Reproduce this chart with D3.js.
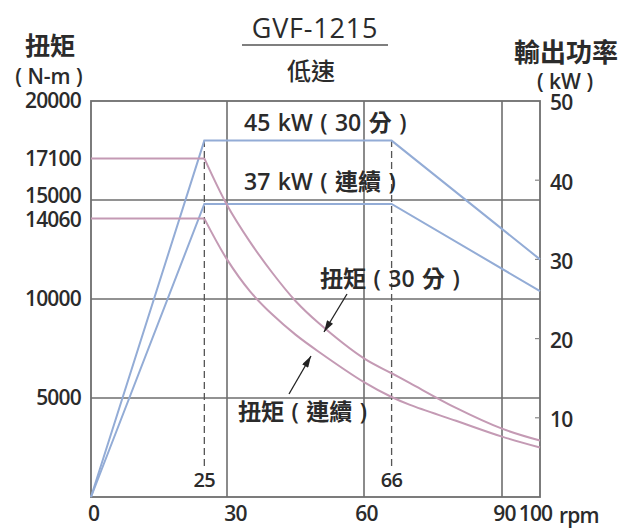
<!DOCTYPE html>
<html>
<head>
<meta charset="utf-8">
<script src="https://cdn.jsdelivr.net/npm/d3@7"></script>
<style>
body{margin:0;background:#fff;}
text{font-family:"Open Sans","Noto Sans CJK TC",sans-serif;fill:#2b2b2b;}
.cjk{font-family:"Noto Sans CJK TC","Open Sans",sans-serif;}
</style>
</head>
<body>
<svg id="chart"></svg>
<script>
// rpm values
var rpmTicks = [0,30,60,90,100];
var markRpm = [25,66];
// torque axis (N-m)
var torqueTicks = [20000,17100,15000,14060,10000,5000];
var gridTorque = [5000,10000,15000];
// power axis (kW)
var powerTicks = [10,20,30,40,50];

// power curves
var powerRpm = [0,25,66,100];
var power30 = [0,45,45,30];
var powerCont = [0,37,37,26];

// torque curves
var torqueRpm = [25,30,35,40,45,50,60,66,70,80,90,100];
var torque30 = [17100,14750,12900,11300,9900,8800,7000,6250,5750,4500,3450,2850];
var torqueCont = [14060,12000,10400,9200,8200,7350,5800,5050,4650,3850,3050,2500];

var blue = "#93acd6";
var pink = "#c49ab4";
var grid = "#6e6e6e";

var svg = d3.select("#chart")
    .attr("width",625)
    .attr("height",529);

var x = d3.scaleLinear()
    .domain([0,30,60,90,100])
    .range([91,227,364,502,540]);
var yT = d3.scaleLinear()
    .domain([0,20000])
    .range([497,101]);
var yP = d3.scaleLinear()
    .domain([0,50])
    .range([497,101]);

// marker for the arrows
svg.append("defs").append("marker")
    .attr("id","arr")
    .attr("viewBox","0 0 10 6")
    .attr("refX",10).attr("refY",3)
    .attr("markerWidth",14).attr("markerHeight",7)
    .attr("markerUnits","userSpaceOnUse")
    .attr("orient","auto")
    .append("path")
    .attr("d","M0,0L10,3L0,6Z")
    .attr("fill","#222");

//gridlines
svg.selectAll(".hgrid")
    .data(gridTorque)
    .enter()
    .append("line")
    .attr("x1",x(0)).attr("x2",x(100))
    .attr("y1",function(d){return yT(d)})
    .attr("y2",function(d){return yT(d)})
    .attr("stroke",grid).attr("stroke-width",1.6);

svg.selectAll(".vgrid")
    .data([30,60,90])
    .enter()
    .append("line")
    .attr("x1",function(d){return x(d)})
    .attr("x2",function(d){return x(d)})
    .attr("y1",yT(0)).attr("y2",yT(20000))
    .attr("stroke",grid).attr("stroke-width",1.6);

// dashed markers at 25 and 66 (stop above their labels)
svg.selectAll(".dash")
    .data(markRpm)
    .enter()
    .append("line")
    .attr("x1",function(d){return x(d)})
    .attr("x2",function(d){return x(d)})
    .attr("y1",yT(0)-31).attr("y2",yP(45))
    .attr("stroke","#555").attr("stroke-width",1.3)
    .attr("stroke-dasharray","7,4");

svg.selectAll(".dashlab")
    .data(markRpm)
    .enter()
    .append("text")
    .attr("x",function(d){return x(d)})
    .attr("y",487)
    .attr("text-anchor","middle")
    .style("font-size","20px")
    .style("font-weight","600")
    .style("letter-spacing","-0.5px")
    .text(function(d){return d});

// frame
svg.append("rect")
    .attr("x",x(0)).attr("y",yT(20000))
    .attr("width",x(100)-x(0)).attr("height",yT(0)-yT(20000))
    .attr("fill","none").attr("stroke",grid).attr("stroke-width",1.8);

// right axis inner ticks
svg.selectAll(".rtick")
    .data(powerTicks.slice(0,4))
    .enter()
    .append("line")
    .attr("x1",x(100)-5).attr("x2",x(100))
    .attr("y1",function(d){return yP(d)})
    .attr("y2",function(d){return yP(d)})
    .attr("stroke","#888").attr("stroke-width",1.2);

// power lines
var lineP = d3.line()
    .x(function(d){return x(d[0])})
    .y(function(d){return yP(d[1])});

[power30,powerCont].forEach(function(vals){
    svg.append("path")
        .datum(powerRpm.map(function(r,i){return [r,vals[i]]}))
        .attr("d",lineP)
        .attr("fill","none")
        .attr("stroke",blue)
        .attr("stroke-width",2);
});

// torque lines
var lineT = d3.line()
    .x(function(d){return x(d[0])})
    .y(function(d){return yT(d[1])})
    .curve(d3.curveCatmullRom.alpha(0.5));

[torque30,torqueCont].forEach(function(vals){
    svg.append("line")
        .attr("x1",x(0)).attr("x2",x(25))
        .attr("y1",yT(vals[0])).attr("y2",yT(vals[0]))
        .attr("stroke",pink).attr("stroke-width",2);
    svg.append("path")
        .datum(torqueRpm.map(function(r,i){return [r,vals[i]]}))
        .attr("d",lineT)
        .attr("fill","none")
        .attr("stroke",pink)
        .attr("stroke-width",2);
});

// axes labels
var styleTicks = function(sel,size){
    sel.selectAll("text")
        .attr("fill","#2b2b2b")
        .style("font-family","'Open Sans',sans-serif")
        .style("font-size",size)
        .style("font-weight","600")
        .style("letter-spacing","-0.8px");
}

var leftAxis = d3.axisLeft(yT).tickValues(torqueTicks)
    .tickFormat(d3.format("d")).tickSize(0).tickPadding(10);
var gl = svg.append("g")
    .attr("transform","translate("+x(0)+",0)")
    .call(leftAxis);
gl.select(".domain").remove();
styleTicks(gl,"21px");
gl.selectAll("text")
    .attr("dy",function(d){return d==15000?"0.12em":(d==14060?"0.38em":"0.32em")});

var rightAxis = d3.axisRight(yP).tickValues(powerTicks).tickSize(0).tickPadding(10);
var gr = svg.append("g")
    .attr("transform","translate("+x(100)+",0)")
    .call(rightAxis);
gr.select(".domain").remove();
styleTicks(gr,"21px");
gr.selectAll("text").attr("dy","0.42em");

var bottomAxis = d3.axisBottom(x).tickValues(rpmTicks).tickSize(0).tickPadding(9);
var gb = svg.append("g")
    .attr("transform","translate(0,"+yT(0)+")")
    .call(bottomAxis);
gb.select(".domain").remove();
styleTicks(gb,"21px");
gb.selectAll("text")
    .attr("dx",function(d){return d==30?8:(d==100?-5:2)});

svg.append("text")
    .attr("x",559).attr("y",523)
    .style("font-size","21px")
    .style("font-weight","600")
    .style("letter-spacing","-0.8px")
    .text("rpm");

// titles
svg.append("text")
    .attr("x",315).attr("y",38)
    .attr("text-anchor","middle")
    .style("font-size","27px")
    .style("letter-spacing","0.8px")
    .text("GVF-1215");
svg.append("line")
    .attr("x1",242).attr("x2",388)
    .attr("y1",45).attr("y2",45)
    .attr("stroke","#555").attr("stroke-width",1.6);
svg.append("text")
    .attr("class","cjk")
    .attr("x",311).attr("y",80)
    .attr("text-anchor","middle")
    .style("font-size","24px")
    .style("font-weight","500")
    .text("低速");

svg.append("text")
    .attr("class","cjk")
    .attr("x",50).attr("y",55)
    .attr("text-anchor","middle")
    .style("font-size","25px")
    .style("font-weight","bold")
    .text("扭矩");
svg.append("text")
    .attr("x",49).attr("y",84)
    .attr("text-anchor","middle")
    .style("font-size","21px")
    .style("font-weight","600")
    .text("( N-m )");

svg.append("text")
    .attr("class","cjk")
    .attr("x",566).attr("y",62)
    .attr("text-anchor","middle")
    .style("font-size","26px")
    .style("font-weight","bold")
    .text("輸出功率");
svg.append("text")
    .attr("x",565).attr("y",89)
    .attr("text-anchor","middle")
    .style("font-size","21px")
    .style("font-weight","600")
    .text("( kW )");

// annotations
var notes = [
    {t:"45 kW ( 30 分 )",x:244,y:131},
    {t:"37 kW ( 連續 )",x:244,y:190},
    {t:"扭矩 ( 30 分 )",x:320,y:287},
    {t:"扭矩 ( 連續 )",x:238,y:420}
];
svg.selectAll(".note")
    .data(notes)
    .enter()
    .append("text")
    .attr("x",function(d){return d.x})
    .attr("y",function(d){return d.y})
    .style("font-size","23px")
    .style("font-weight","600")
    .style("word-spacing","1.5px")
    .text(function(d){return d.t});

// arrows
var arrows = [
    {x1:347,y1:294,x2:324,y2:332},
    {x1:289,y1:394,x2:311,y2:356}
];
svg.selectAll(".arrow")
    .data(arrows)
    .enter()
    .append("line")
    .attr("x1",function(d){return d.x1})
    .attr("y1",function(d){return d.y1})
    .attr("x2",function(d){return d.x2})
    .attr("y2",function(d){return d.y2})
    .attr("stroke","#222").attr("stroke-width",1.3)
    .attr("marker-end","url(#arr)");
</script>
</body>
</html>
